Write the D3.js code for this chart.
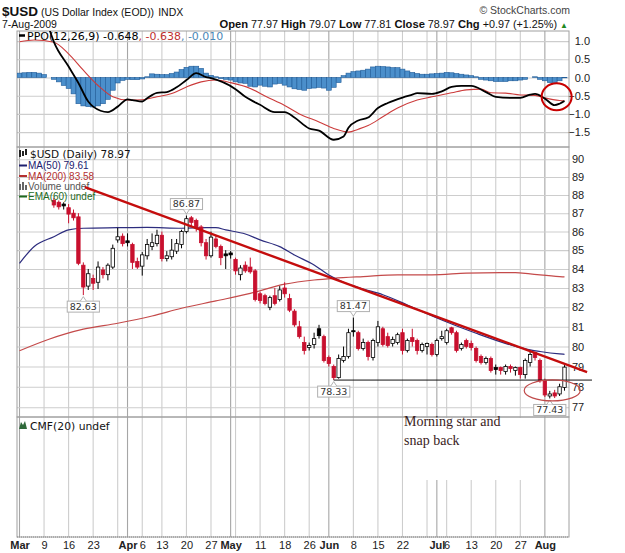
<!DOCTYPE html>
<html>
<head>
<meta charset="utf-8">
<script src="https://cdn.jsdelivr.net/npm/d3@7"></script>
<style>
  body { margin: 0; background: #fff; }
  svg text { font-family: "Liberation Sans", Arial, sans-serif; }
</style>
</head>
<body>
<script>
/* $USD daily candles with PPO panel, Mar - Aug 2009 */

var holidays = ["04-10", "05-25", "07-03"]

// date, open, high, low, close
var candles = [
  ["03-11", 87.70, 87.85, 87.30, 87.45], ["03-12", 87.60, 87.70, 87.20, 87.35],
  ["03-13", 87.50, 87.60, 87.20, 87.40], ["03-16", 87.30, 87.50, 86.45, 86.95],
  ["03-17", 87.00, 87.20, 86.60, 86.75], ["03-18", 86.80, 87.00, 84.20, 84.30],
  ["03-19", 84.20, 84.35, 82.63, 83.05], ["03-20", 83.10, 84.00, 82.90, 83.75],
  ["03-23", 83.50, 83.70, 82.90, 83.25], ["03-24", 83.30, 84.40, 82.95, 84.10],
  ["03-25", 83.95, 84.10, 83.50, 83.70], ["03-26", 83.70, 84.30, 83.40, 84.20],
  ["03-27", 84.10, 85.30, 84.00, 85.10], ["03-30", 85.55, 86.20, 85.40, 85.72],
  ["03-31", 85.75, 85.90, 85.20, 85.35], ["04-01", 85.50, 85.90, 85.20, 85.40],
  ["04-02", 85.30, 85.40, 84.00, 84.35], ["04-03", 84.40, 84.60, 84.00, 84.10],
  ["04-06", 84.15, 84.90, 83.65, 84.75], ["04-07", 84.70, 85.60, 84.50, 85.30],
  ["04-08", 85.20, 85.90, 85.00, 85.40], ["04-09", 85.35, 86.10, 85.20, 85.80],
  ["04-13", 85.80, 86.00, 84.40, 84.55], ["04-14", 84.55, 84.95, 84.40, 84.70],
  ["04-15", 84.65, 85.60, 84.50, 85.00], ["04-16", 84.95, 85.60, 84.80, 85.35],
  ["04-17", 85.30, 86.10, 85.10, 86.00], ["04-20", 86.00, 86.87, 85.90, 86.70],
  ["04-21", 86.75, 86.85, 86.30, 86.50], ["04-22", 86.60, 86.70, 86.00, 86.20],
  ["04-23", 86.25, 86.35, 85.20, 85.40], ["04-24", 85.40, 85.60, 84.50, 84.70],
  ["04-27", 84.70, 86.00, 84.60, 85.70], ["04-28", 85.60, 85.80, 85.10, 85.20],
  ["04-29", 85.20, 85.30, 84.20, 84.60], ["04-30", 84.80, 85.00, 84.00, 84.70],
  ["05-01", 84.85, 84.95, 84.55, 84.75], ["05-04", 84.50, 84.60, 83.70, 83.90],
  ["05-05", 83.70, 84.20, 83.40, 84.05], ["05-06", 84.20, 84.40, 83.80, 83.90],
  ["05-07", 84.10, 84.60, 83.75, 83.85], ["05-08", 83.90, 84.00, 82.30, 82.40],
  ["05-11", 82.70, 82.80, 82.20, 82.35], ["05-12", 82.60, 82.70, 82.10, 82.20],
  ["05-13", 82.00, 82.60, 81.85, 82.50], ["05-14", 82.60, 83.00, 82.10, 82.20],
  ["05-15", 82.40, 83.10, 82.30, 82.90], ["05-18", 83.00, 83.30, 82.50, 82.70],
  ["05-19", 82.45, 82.70, 81.75, 81.85], ["05-20", 81.80, 81.90, 81.00, 81.10],
  ["05-21", 81.00, 81.30, 80.40, 80.50], ["05-22", 80.20, 80.50, 79.60, 79.80],
  ["05-26", 79.95, 80.20, 79.80, 80.05], ["05-27", 80.10, 80.70, 79.90, 80.40],
  ["05-28", 80.90, 81.10, 80.40, 80.55], ["05-29", 80.50, 80.60, 79.20, 79.30],
  ["06-01", 79.45, 79.55, 79.00, 79.15], ["06-02", 79.00, 79.10, 78.33, 78.45],
  ["06-03", 78.45, 79.60, 78.40, 79.40], ["06-04", 79.30, 80.00, 79.20, 79.50],
  ["06-05", 79.50, 80.90, 79.40, 80.70], ["06-08", 80.80, 81.47, 80.50, 80.75],
  ["06-09", 80.70, 80.80, 79.80, 79.90], ["06-10", 79.90, 80.40, 79.80, 80.20],
  ["06-11", 80.20, 80.30, 79.30, 79.50], ["06-12", 79.45, 80.40, 79.30, 80.30],
  ["06-15", 80.20, 81.30, 80.00, 81.00], ["06-16", 80.90, 81.00, 80.00, 80.10],
  ["06-17", 80.50, 80.70, 79.95, 80.05], ["06-18", 80.15, 80.50, 80.00, 80.35],
  ["06-19", 80.20, 80.70, 80.10, 80.60], ["06-22", 80.70, 80.90, 79.60, 79.80],
  ["06-23", 79.80, 80.40, 79.70, 80.30], ["06-24", 80.45, 80.90, 80.00, 80.25],
  ["06-25", 80.30, 80.40, 79.60, 79.80], ["06-26", 79.80, 80.20, 79.70, 80.10],
  ["06-29", 80.00, 80.20, 79.60, 80.15], ["06-30", 80.10, 80.20, 79.50, 79.60],
  ["07-01", 79.60, 80.40, 79.50, 80.30], ["07-02", 80.40, 80.80, 80.30, 80.50],
  ["07-06", 80.20, 80.90, 80.10, 80.80], ["07-07", 80.95, 81.00, 80.60, 80.70],
  ["07-08", 80.70, 80.80, 79.70, 79.80], ["07-09", 79.90, 80.20, 79.80, 80.10],
  ["07-10", 80.30, 80.40, 79.90, 80.00], ["07-13", 80.15, 80.30, 79.80, 79.95],
  ["07-14", 79.90, 80.00, 79.20, 79.30], ["07-15", 79.50, 79.60, 79.10, 79.20],
  ["07-16", 79.20, 79.50, 79.10, 79.40], ["07-17", 79.40, 79.50, 78.70, 78.80],
  ["07-20", 78.95, 79.10, 78.60, 78.85], ["07-21", 78.95, 79.00, 78.60, 78.80],
  ["07-22", 78.75, 79.10, 78.60, 79.00], ["07-23", 79.00, 79.10, 78.70, 78.90],
  ["07-24", 78.80, 79.00, 78.55, 78.95], ["07-27", 78.95, 79.00, 78.40, 78.60],
  ["07-28", 78.60, 79.40, 78.40, 79.30], ["07-29", 79.20, 79.80, 79.00, 79.60],
  ["07-30", 79.70, 79.75, 79.30, 79.45], ["07-31", 79.30, 79.40, 78.20, 78.30],
  ["08-03", 78.30, 78.40, 77.50, 77.60], ["08-04", 77.55, 77.80, 77.43, 77.65],
  ["08-05", 77.70, 77.85, 77.45, 77.55], ["08-06", 77.65, 78.15, 77.55, 78.00],
  ["08-07", 77.97, 79.07, 77.81, 78.97]
]

var ma50 = [
  ["03-02", 84.30], ["03-05", 85.20], ["03-11", 85.72], ["03-16", 86.09], ["03-19", 86.18],
  ["03-30", 86.21], ["04-07", 86.23], ["04-17", 86.18], ["04-24", 86.21], ["04-28", 86.21],
  ["04-30", 86.09], ["05-06", 85.87], ["05-11", 85.55], ["05-15", 85.19], ["05-20", 84.74],
  ["05-27", 84.21], ["06-01", 83.68], ["06-04", 83.30], ["06-10", 82.95], ["06-16", 82.65],
  ["06-23", 82.12], ["07-02", 81.35], ["07-14", 80.67], ["07-23", 80.08], ["07-29", 79.83],
  ["07-31", 79.75], ["08-06", 79.63], ["08-07", 79.61]
]

var ma200 = [
  ["03-02", 79.79], ["03-10", 80.37], ["03-19", 80.88], ["03-30", 81.18], ["04-08", 81.55],
  ["04-17", 81.95], ["04-28", 82.33], ["05-07", 82.72], ["05-18", 83.20], ["05-27", 83.42],
  ["06-02", 83.51], ["06-10", 83.60], ["06-19", 83.69], ["06-30", 83.69], ["07-10", 83.78],
  ["07-21", 83.81], ["07-24", 83.81], ["07-29", 83.74], ["08-06", 83.60], ["08-07", 83.58]
]

var ppoLine = [
  ["03-02", 2.30], ["03-06", 1.90], ["03-10", 1.35], ["03-11", 0.98], ["03-16", 0.30],
  ["03-18", -0.15], ["03-20", -0.66], ["03-23", -0.80], ["03-26", -0.95], ["03-30", -0.80],
  ["04-01", -0.60], ["04-02", -0.62], ["04-06", -0.66], ["04-07", -0.57], ["04-09", -0.42],
  ["04-14", -0.40], ["04-16", -0.27], ["04-20", -0.07], ["04-22", 0.12], ["04-24", 0.01],
  ["04-27", -0.02], ["05-04", -0.32], ["05-06", -0.53], ["05-11", -0.75], ["05-14", -0.95],
  ["05-18", -0.95], ["05-20", -1.10], ["05-26", -1.40], ["05-28", -1.46], ["06-02", -1.71],
  ["06-04", -1.62], ["06-05", -1.38], ["06-09", -1.18], ["06-11", -1.10], ["06-15", -0.84],
  ["06-17", -0.70], ["06-22", -0.55], ["06-24", -0.47], ["06-25", -0.43], ["06-30", -0.45],
  ["07-02", -0.38], ["07-07", -0.26], ["07-09", -0.23], ["07-13", -0.23], ["07-16", -0.40],
  ["07-20", -0.53], ["07-23", -0.56], ["07-27", -0.56], ["07-29", -0.47], ["07-30", -0.45],
  ["08-03", -0.58], ["08-05", -0.76], ["08-06", -0.72], ["08-07", -0.648]
]

var ppoSignal = [
  ["03-02", 0.98], ["03-05", 1.03], ["03-11", 0.97], ["03-16", 0.65], ["03-19", 0.20],
  ["03-24", -0.22], ["03-27", -0.53], ["04-01", -0.62], ["04-06", -0.61], ["04-09", -0.53],
  ["04-15", -0.44], ["04-20", -0.26], ["04-23", -0.12], ["04-28", -0.07], ["05-01", -0.14],
  ["05-07", -0.30], ["05-12", -0.51], ["05-18", -0.77], ["05-21", -1.00], ["05-28", -1.22],
  ["06-02", -1.40], ["06-05", -1.50], ["06-09", -1.42], ["06-11", -1.32], ["06-16", -1.08],
  ["06-19", -0.84], ["06-25", -0.62], ["06-30", -0.53], ["07-07", -0.42], ["07-10", -0.34],
  ["07-15", -0.32], ["07-17", -0.42], ["07-22", -0.43], ["07-27", -0.48], ["07-30", -0.49],
  ["08-03", -0.56], ["08-06", -0.63], ["08-07", -0.638]
]

// one histogram bar per trading day, Mar 2 - Aug 7
var ppoHist = [
  0.12, 0.13, 0.14, 0.14, 0.12, 0.08, 0.00, -0.05, -0.12, -0.22,
  -0.30, -0.45, -0.72, -0.78, -0.80, -0.81, -0.78, -0.72, -0.60, -0.35,
  -0.15, -0.08, -0.05, -0.06, -0.06, -0.04, 0.02, 0.10, 0.09, 0.08,
  0.08, 0.11, 0.15, 0.22, 0.28, 0.31, 0.31, 0.25, 0.12, 0.06,
  0.02, -0.03, -0.05, -0.07, -0.12, -0.15, -0.16, -0.24, -0.26, -0.21,
  -0.24, -0.26, -0.18, -0.16, -0.21, -0.26, -0.31, -0.33, -0.35, -0.30,
  -0.29, -0.27, -0.29, -0.35, -0.27, -0.14, 0.05, 0.12, 0.16, 0.18,
  0.20, 0.23, 0.29, 0.31, 0.30, 0.29, 0.27, 0.27, 0.23, 0.18,
  0.14, 0.11, 0.09, 0.09, 0.10, 0.11, 0.12, 0.14, 0.13, 0.11,
  0.09, 0.07, 0.05, 0.02, -0.05, -0.07, -0.09, -0.11, -0.11, -0.11,
  -0.09, -0.09, -0.07, -0.05, 0.00, 0.02, -0.05, -0.09, -0.14, -0.16,
  -0.09, -0.01
]

var priceTicks = [77, 78, 79, 80, 81, 82, 83, 84, 85, 86, 87, 88, 89, 90]
var ppoTicks = [1.0, 0.5, 0.0, -0.5, -1.0, -1.5]
var dateTicks = [
  ["03-02", "Mar"], ["03-09", "9"], ["03-16", "16"], ["03-23", "23"],
  ["04-01", "Apr"], ["04-06", "6"], ["04-13", "13"], ["04-20", "20"], ["04-27", "27"],
  ["05-01", "May"], ["05-11", "11"], ["05-18", "18"], ["05-26", "26"],
  ["06-01", "Jun"], ["06-08", "8"], ["06-15", "15"], ["06-22", "22"],
  ["07-01", "Jul"], ["07-06", "6"], ["07-13", "13"], ["07-20", "20"], ["07-27", "27"],
  ["08-03", "Aug"]
]
var monthNames = ["Mar", "Apr", "May", "Jun", "Jul", "Aug"]

// marked highs / lows: date, price, above the bar?
var hiLoTags = [
  ["04-20", 86.87, true], ["03-19", 82.63, false], ["06-08", 81.47, true],
  ["06-02", 78.33, false], ["08-04", 77.43, false]
]

// hand drawn notes, x in trading days from Mar 2
var trendLine = [[13.3, 88.44], [115.6, 78.72]]
var supportLine = [[64, 78.33], [116.6, 78.33]]


window.onload = function() {
  var W = 625, H = 553
  var L = 17, R = 569
  var ppoTop = 31, ppoBot = 147
  var mainTop = 147, mainBot = 417
  var cmfTop = 417, cmfBot = 537

  var fmt = d3.timeFormat("%m-%d")
  var days = d3.timeDay.range(new Date(2009, 2, 2), new Date(2009, 7, 8))
               .filter(function(d){
                 return d.getDay() > 0 && d.getDay() < 6 && holidays.indexOf(fmt(d)) < 0
               })
  var dayIndex = {}
  days.forEach(function(d, i){ dayIndex[fmt(d)] = i })

  var x = d3.scaleLinear().domain([0, days.length - 1]).range([19.5, 564.5])
  var step = x(1) - x(0)
  var yMain = d3.scaleLog().domain([77, 90]).range([407.3, 159.3])
  var yPpo = d3.scaleLinear().domain([-1.5, 1.0]).range([132.1, 41.1])

  // gridline days: first trading day of each week / month
  var gridDays = []
  days.forEach(function(d, i){
    var newMonth = i == 0 || d.getMonth() != days[i-1].getMonth()
    var newWeek = i == 0 || d.getDay() < days[i-1].getDay()
    if (newMonth || newWeek) gridDays.push({i: i, month: newMonth})
  })

  var svg = d3.select("body").append("svg")
              .attr("width", W)
              .attr("height", H)
  svg.append("rect").attr("width", W).attr("height", H).attr("fill", "#fff")

  var defs = svg.append("defs")
  defs.append("clipPath").attr("id", "clipPpo").append("rect")
      .attr("x", L).attr("y", ppoTop).attr("width", R - L).attr("height", ppoBot - ppoTop)
  defs.append("clipPath").attr("id", "clipMain").append("rect")
      .attr("x", L).attr("y", mainTop).attr("width", R - L).attr("height", mainBot - mainTop)

  var gridGrey = "#cdcdcd"

  // vertical grid in all three panels
  var vgrid = svg.append("g")
  ;[[ppoTop, ppoBot], [mainTop, mainBot], [cmfTop, cmfBot]].forEach(function(p){
    vgrid.selectAll(null).data(gridDays).enter().append("line")
         .attr("x1", function(d){ return x(d.i) })
         .attr("x2", function(d){ return x(d.i) })
         .attr("y1", p[0]).attr("y2", p[1])
         .attr("stroke", function(d){ return d.month ? "#a6a6a6" : gridGrey })
         .attr("stroke-width", 1.1)
  })

  // horizontal grid + right labels
  var mainAxis = svg.append("g")
     .attr("transform", "translate(" + R + ",0)")
     .call(d3.axisRight(yMain).tickValues(priceTicks).tickSize(-(R - L)).tickPadding(3)
             .tickFormat(d3.format("d")))
  mainAxis.select(".domain").remove()
  mainAxis.selectAll("line").attr("stroke", gridGrey).attr("stroke-width", 1.1)
  mainAxis.selectAll("text").attr("fill", "#222")
          .style("font-family", "Liberation Sans").style("font-size", "11px")

  var ppoAxis = svg.append("g")
     .attr("transform", "translate(" + R + ",0)")
     .call(d3.axisRight(yPpo).tickValues(ppoTicks).tickSize(-(R - L)).tickPadding(3)
             .tickFormat(d3.format(".1f")))
  ppoAxis.select(".domain").remove()
  ppoAxis.selectAll("line").attr("stroke", gridGrey).attr("stroke-width", 1.1)
  ppoAxis.selectAll("text").attr("fill", "#222").attr("x", 21).attr("text-anchor", "end")
         .style("font-family", "Liberation Sans").style("font-size", "11px")

  // bottom date axis
  var xAxis = svg.append("g")
     .attr("transform", "translate(0," + cmfBot + ")")
     .call(d3.axisBottom(x)
             .tickValues(dateTicks.map(function(t){ return dayIndex[t[0]] }))
             .tickFormat(function(d, k){ return dateTicks[k][1] })
             .tickSize(0).tickPadding(4))
  xAxis.select(".domain").remove()
  xAxis.selectAll("text").attr("fill", "#222")
       .style("font-family", "Liberation Sans").style("font-size", "11px")
       .style("font-weight", function(d, k){
         return monthNames.indexOf(dateTicks[k][1]) >= 0 ? "bold" : "normal"
       })

  // panel frames
  ;[[ppoTop, ppoBot], [mainTop, mainBot], [cmfTop, cmfBot]].forEach(function(p){
    svg.append("rect").attr("x", L).attr("y", p[0])
       .attr("width", R - L).attr("height", p[1] - p[0])
       .attr("fill", "none").attr("stroke", "#a0a0a0").attr("stroke-width", 1)
  })
  svg.append("line").attr("x1", L).attr("x2", R).attr("y1", cmfBot).attr("y2", cmfBot)
     .attr("stroke", "#888").attr("stroke-dasharray", "1,1")

  // ---------- PPO panel ----------
  var ppoG = svg.append("g").attr("clip-path", "url(#clipPpo)")
  ppoG.selectAll("rect.hist").data(ppoHist).enter().append("rect")
      .attr("x", function(d, i){ return x(i) - step / 2 })
      .attr("width", step)
      .attr("y", function(d){ return Math.min(yPpo(d), yPpo(0)) })
      .attr("height", function(d){ return Math.abs(yPpo(d) - yPpo(0)) })
      .attr("fill", "#4b8fcb")
      .attr("stroke", "#215c98")
      .attr("stroke-width", 0.6)

  var ppoPath = d3.line()
      .x(function(d){ return x(dayIndex[d[0]]) })
      .y(function(d){ return yPpo(d[1]) })
      .curve(d3.curveMonotoneX)
  ppoG.append("path").datum(ppoSignal).attr("d", ppoPath)
      .attr("fill", "none").attr("stroke", "#cc3b3b").attr("stroke-width", 1.1)
  ppoG.append("path").datum(ppoLine).attr("d", ppoPath)
      .attr("fill", "none").attr("stroke", "#000").attr("stroke-width", 1.8)

  var ppoLeg = svg.append("text").attr("x", 27).attr("y", 39.5)
      .style("font-family", "DejaVu Sans").style("font-size", "11px")
  ppoLeg.append("tspan").attr("fill", "#000").text("PPO(12,26,9) -0.648")
  ppoLeg.append("tspan").attr("fill", "#c03030").text(", -0.638")
  ppoLeg.append("tspan").attr("fill", "#4a88b8").text(", -0.010")
  svg.append("line").attr("x1", 19).attr("x2", 25).attr("y1", 35.5).attr("y2", 35.5)
     .attr("stroke", "#000").attr("stroke-width", 2.5)

  // ---------- price panel ----------
  var mainG = svg.append("g").attr("clip-path", "url(#clipMain)")
  var maPath = d3.line()
      .x(function(d){ return x(dayIndex[d[0]]) })
      .y(function(d){ return yMain(d[1]) })
      .curve(d3.curveMonotoneX)
  mainG.append("path").datum(ma200).attr("d", maPath)
       .attr("fill", "none").attr("stroke", "#c44a4a").attr("stroke-width", 1.2)
  mainG.append("path").datum(ma50).attr("d", maPath)
       .attr("fill", "none").attr("stroke", "#2c2c7e").attr("stroke-width", 1.2)

  var red = "#c8102e"
  var bars = candles.map(function(c, k){
    var prev = k > 0 ? candles[k-1][4] : c[1]
    return {
      i: dayIndex[c[0]], o: c[1], h: c[2], l: c[3], c: c[4],
      colour: c[4] < prev ? red : "#000",
      hollow: c[4] > c[1]
    }
  })
  var cg = mainG.selectAll("g.candle").data(bars).enter().append("g")
  cg.append("line")
    .attr("x1", function(d){ return x(d.i) }).attr("x2", function(d){ return x(d.i) })
    .attr("y1", function(d){ return yMain(d.h) }).attr("y2", function(d){ return yMain(d.l) })
    .attr("stroke", function(d){ return d.colour }).attr("stroke-width", 1)
  cg.append("rect")
    .attr("x", function(d){ return x(d.i) - 1.7 })
    .attr("width", 3.4)
    .attr("y", function(d){ return yMain(Math.max(d.o, d.c)) })
    .attr("height", function(d){ return Math.max(1, Math.abs(yMain(d.o) - yMain(d.c))) })
    .attr("fill", function(d){ return d.hollow ? "#fff" : d.colour })
    .attr("stroke", function(d){ return d.colour })
    .attr("stroke-width", 0.8)

  // high / low tags
  hiLoTags.forEach(function(t){
    var cx = x(dayIndex[t[0]])
    var cy = yMain(t[1])
    var g = svg.append("g")
    var box = g.append("rect")
    var txt = g.append("text").attr("x", cx).attr("text-anchor", "middle")
               .style("font-family", "DejaVu Sans").style("font-size", "9.5px")
               .attr("fill", "#333").text(t[1].toFixed(2))
    var w = txt.node().getComputedTextLength() + 5
    var bh = 11
    var by = t[2] ? cy - 6 - bh : cy + 6
    txt.attr("y", by + 8.7)
    box.attr("x", cx - w / 2).attr("y", by).attr("width", w).attr("height", bh)
       .attr("fill", "#fff").attr("stroke", "#b0b0b0").attr("stroke-width", 1)
    var edge = t[2] ? by + bh : by
    var tip = t[2] ? cy - 1.5 : cy + 1.5
    g.append("path").attr("d", "M" + (cx - 3) + "," + edge + "L" + cx + "," + tip + "L" + (cx + 3) + "," + edge)
     .attr("fill", "#fff").attr("stroke", "#a0a0a0").attr("stroke-width", 0.8)
  })

  // legend of the price panel
  svg.append("rect").attr("x", 19).attr("y", 150).attr("width", 2).attr("height", 7).attr("fill", "#222")
  svg.append("rect").attr("x", 22).attr("y", 151).attr("width", 2).attr("height", 5).attr("fill", "#222")
  svg.append("rect").attr("x", 25).attr("y", 149).attr("width", 2).attr("height", 6).attr("fill", "#222")
  svg.append("text").attr("x", 30).attr("y", 158)
     .style("font-family", "DejaVu Sans").style("font-size", "10.5px").attr("fill", "#111")
     .text("$USD (Daily) 78.97")
  var legRows = [
    ["MA(50) 79.61", "#20206e", 169],
    ["MA(200) 83.58", "#b43030", 179.5],
    ["Volume undef", "#555", 190],
    ["EMA(60) undef", "#1e6a1e", 200]
  ]
  legRows.forEach(function(r, k){
    if (k == 2) {
      svg.append("rect").attr("x", 19).attr("y", 184).attr("width", 2).attr("height", 6).attr("fill", "#666")
      svg.append("rect").attr("x", 22).attr("y", 182).attr("width", 2).attr("height", 8).attr("fill", "#666")
      svg.append("rect").attr("x", 25).attr("y", 185).attr("width", 2).attr("height", 5).attr("fill", "#666")
    } else {
      svg.append("line").attr("x1", 19).attr("x2", 27).attr("y1", r[2] - 3.5).attr("y2", r[2] - 3.5)
         .attr("stroke", r[1]).attr("stroke-width", 2)
    }
    svg.append("text").attr("x", 28).attr("y", r[2])
       .style("font-family", "Liberation Sans").style("font-size", "10px")
       .attr("fill", r[1]).text(r[0])
  })

  // ---------- CMF panel ----------
  svg.append("rect").attr("x", 404).attr("y", cmfTop + 1).attr("width", 136).attr("height", 62)
     .attr("fill", "#fff")
  svg.append("path").attr("d", "M19,429 L21,422 L23,425 L25,421 L27,429 Z")
     .attr("fill", "#2f6a3a")
  svg.append("text").attr("x", 30).attr("y", 429.5)
     .style("font-family", "DejaVu Sans").style("font-size", "10.8px").attr("fill", "#111")
     .text("CMF(20) undef")

  // ---------- hand drawn notes ----------
  var noteLine = d3.line()
      .x(function(d){ return x(d[0]) })
      .y(function(d){ return yMain(d[1]) })
  svg.append("path").datum(supportLine).attr("d", noteLine)
     .attr("stroke", "#111").attr("stroke-width", 1).attr("fill", "none")
  svg.append("path").datum(trendLine).attr("d", noteLine)
     .attr("stroke", "#c40d0d").attr("stroke-width", 2.4).attr("fill", "none")

  svg.append("ellipse").attr("cx", x(108.5)).attr("cy", yMain(77.82))
     .attr("rx", 28).attr("ry", 10.5)
     .attr("fill", "none").attr("stroke", "#c04a4a").attr("stroke-width", 1.2)
  svg.append("ellipse").attr("cx", x(109.4)).attr("cy", yPpo(-0.53))
     .attr("rx", 15).attr("ry", 13.5)
     .attr("fill", "none").attr("stroke", "#c80000").attr("stroke-width", 2)

  var note = svg.append("text")
     .style("font-family", "Liberation Serif").style("font-size", "14px").attr("fill", "#3a1c1c")
  note.append("tspan").attr("x", 404).attr("y", 426).text("Morning star and")
  note.append("tspan").attr("x", 404).attr("y", 444.5).text("snap back")

  // ---------- header ----------
  var title = svg.append("text").attr("x", 2).attr("y", 16).attr("fill", "#111")
  title.append("tspan").style("font-weight", "bold").style("font-size", "13.5px").text("$USD")
  title.append("tspan").style("font-size", "10.5px").text(" (US Dollar Index (EOD))")
  title.append("tspan").style("font-size", "10.5px").attr("dx", 4).text("INDX")

  svg.append("text").attr("x", 2).attr("y", 27.5).attr("fill", "#111")
     .style("font-size", "10.5px").text("7-Aug-2009")

  svg.append("text").attr("x", 570).attr("y", 14).attr("text-anchor", "end")
     .attr("fill", "#444").style("font-size", "10.5px").text("\u00a9 StockCharts.com")

  var quote = svg.append("text").attr("x", 568).attr("y", 27.5).attr("text-anchor", "end")
     .attr("fill", "#111").style("font-size", "10.8px")
  var parts = [["Open", " 77.97 "], ["High", " 79.07 "], ["Low", " 77.81 "],
               ["Close", " 78.97 "], ["Chg", " +0.97 (+1.25%) "]]
  parts.forEach(function(p){
    quote.append("tspan").style("font-weight", "bold").style("font-size", "11.2px").text(p[0])
    quote.append("tspan").text(p[1])
  })
  quote.append("tspan").attr("fill", "#1f8a1f").style("font-size", "8px").text("\u25b2")
}
</script>
</body>
</html>
